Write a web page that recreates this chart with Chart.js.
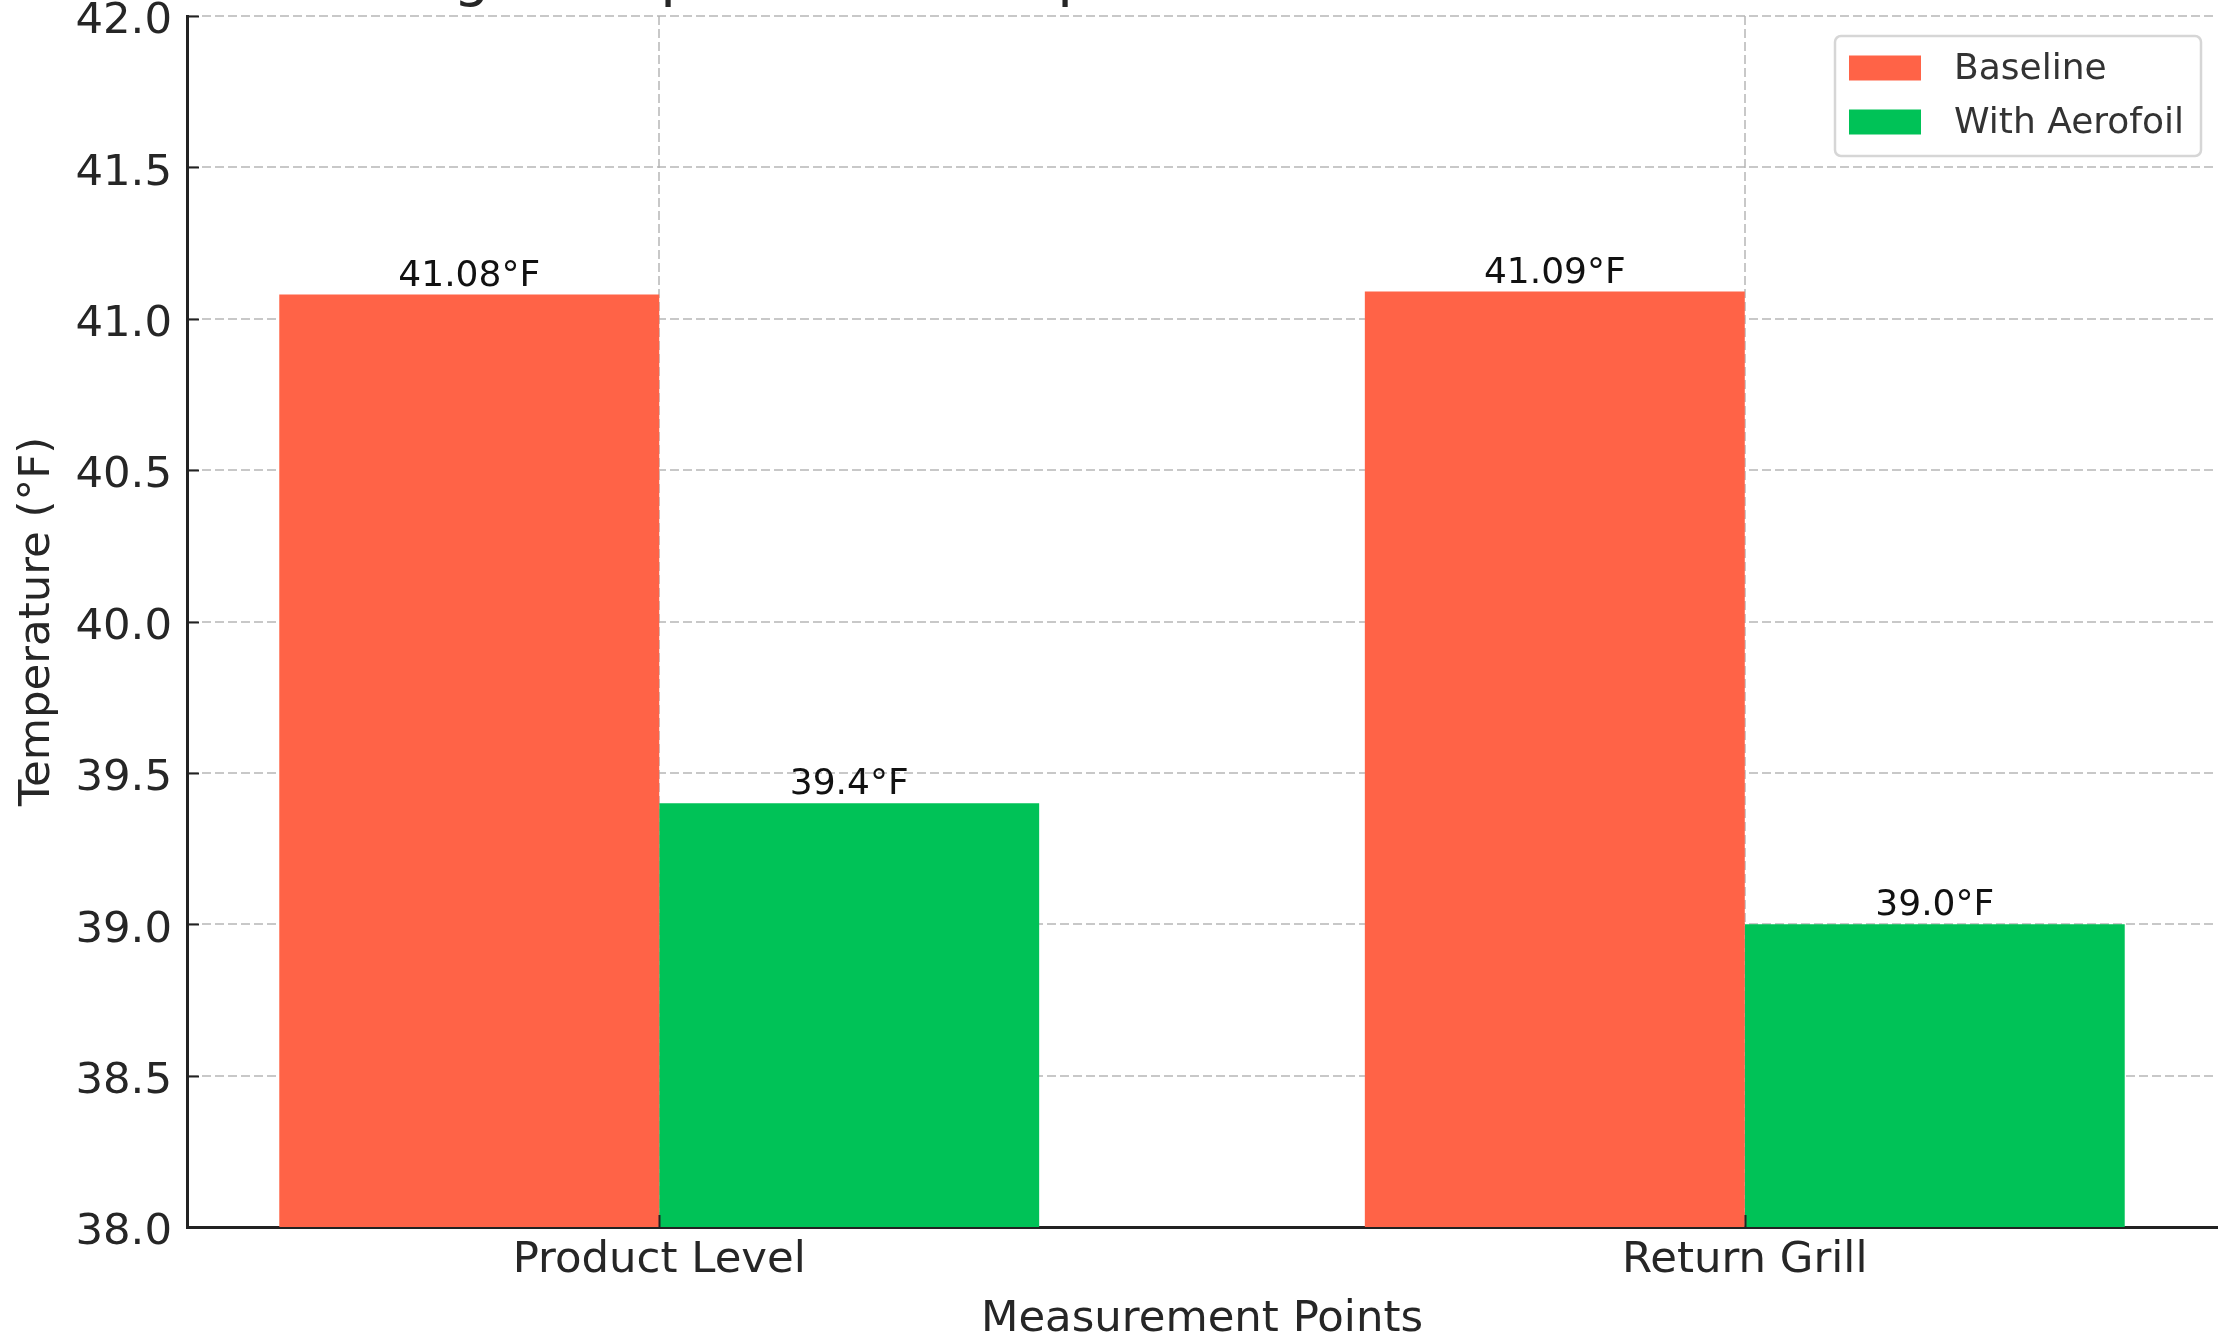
<!DOCTYPE html>
<html>
<head>
<meta charset="utf-8">
<script src="https://cdn.jsdelivr.net/npm/chart.js@4/dist/chart.umd.min.js"></script>
<style>
  html, body { margin: 0; padding: 0; background: #fff; }
  #wrap { width: 2236px; height: 1337px; }
</style>
</head>
<body>
<div id="wrap"><canvas id="chart-canvas" width="2236" height="1337"></canvas></div>
<script>
// Data.
var categories = ['Product Level', 'Return Grill'];
var seriesNames = ['Baseline', 'With Aerofoil'];
var baselineTemps = [41.08, 41.09];
var aerofoilTemps = [39.4, 39.0];
var yTickValues = [38.0, 38.5, 39.0, 39.5, 40.0, 40.5, 41.0, 41.5, 42.0];
var chartTitle = 'Average Temperature Comparison: Baseline vs With Aerofoil';

var textColor = '#262626';
var fontFamily = '"DejaVu Sans", "Liberation Sans", sans-serif';

function toPoints(values) {
  return values.map(function (v, i) { return { x: i, y: v }; });
}

// Python-like float text: 39.0 keeps its decimal.
function formatTemp(v) {
  return (Number.isInteger(v) ? v.toFixed(1) : String(v)) + '\u00B0F';
}

// Title sits mostly above the canvas, only the descenders show.
var cutTitle = {
  id: 'cutTitle',
  afterDraw: function (chart) {
    var ctx = chart.ctx;
    ctx.save();
    ctx.font = '57.5px ' + fontFamily;
    ctx.fillStyle = textColor;
    ctx.textAlign = 'left';
    ctx.textBaseline = 'alphabetic';
    ctx.fillText(chartTitle, chart.chartArea.left + 102, -5);
    ctx.restore();
  }
};

// Ticks point into the plot.
var innerTicks = {
  id: 'innerTicks',
  afterDraw: function (chart) {
    var ctx = chart.ctx;
    var area = chart.chartArea;
    var xs = chart.scales.x;
    var ys = chart.scales.y;
    ctx.save();
    ctx.strokeStyle = '#222';
    ctx.lineWidth = 2;
    ys.ticks.forEach(function (t, i) {
      var py = Math.round(ys.getPixelForTick(i)) + 0.5;
      ctx.beginPath();
      ctx.moveTo(area.left, py);
      ctx.lineTo(area.left + 12, py);
      ctx.stroke();
    });
    xs.ticks.forEach(function (t, i) {
      var px = Math.round(xs.getPixelForTick(i)) + 0.5;
      ctx.beginPath();
      ctx.moveTo(px, area.bottom);
      ctx.lineTo(px, area.bottom - 12);
      ctx.stroke();
    });
    ctx.restore();
  }
};

// Value labels above each bar.
var barLabels = {
  id: 'barLabels',
  afterDraw: function (chart) {
    var ctx = chart.ctx;
    ctx.save();
    ctx.font = '36px ' + fontFamily;
    ctx.fillStyle = '#111';
    ctx.textAlign = 'center';
    ctx.textBaseline = 'alphabetic';
    chart.data.datasets.forEach(function (ds, di) {
      var meta = chart.getDatasetMeta(di);
      meta.data.forEach(function (bar, i) {
        ctx.fillText(formatTemp(ds.data[i].y), bar.x, bar.y - 9);
      });
    });
    ctx.restore();
  }
};

// Legend box in the upper right corner of the plot.
var legendBox = {
  id: 'legendBox',
  afterDraw: function (chart) {
    var ctx = chart.ctx;
    var area = chart.chartArea;
    var w = 366, h = 120;
    var left = area.right - 16 - w;
    var top = area.top + 20;
    ctx.save();
    ctx.fillStyle = 'rgba(255,255,255,0.85)';
    ctx.strokeStyle = '#d6d6d6';
    ctx.lineWidth = 2.5;
    ctx.beginPath();
    ctx.roundRect(left, top, w, h, 6);
    ctx.fill();
    ctx.stroke();
    ctx.font = '36px ' + fontFamily;
    ctx.textBaseline = 'middle';
    ctx.textAlign = 'left';
    chart.data.datasets.forEach(function (ds, i) {
      var cy = top + 32 + i * 54;
      ctx.fillStyle = ds.backgroundColor;
      ctx.fillRect(left + 14, cy - 12.5, 72, 25);
      ctx.fillStyle = '#333';
      ctx.fillText(ds.label, left + 119, cy + 2);
    });
    ctx.restore();
  }
};

var gridColor = 'rgba(176,176,176,0.7)';

var ctx = document.getElementById('chart-canvas').getContext('2d');
new Chart(ctx, {
  type: 'bar',
  data: {
    datasets: [
      {
        label: seriesNames[0],
        data: toPoints(baselineTemps),
        backgroundColor: '#FF6347',
        borderWidth: 0
      },
      {
        label: seriesNames[1],
        data: toPoints(aerofoilTemps),
        backgroundColor: '#00C257',
        borderWidth: 0
      }
    ]
  },
  options: {
    responsive: false,
    devicePixelRatio: 1,
    animation: false,
    categoryPercentage: 0.7,
    barPercentage: 1.0,
    layout: { padding: { top: 16, right: 19, left: 0, bottom: 0 } },
    plugins: {
      legend: { display: false },
      title: { display: false },
      tooltip: { enabled: false }
    },
    scales: {
      x: {
        type: 'linear',
        min: -0.435,
        max: 1.435,
        offset: false,
        z: 1,
        afterBuildTicks: function (scale) {
          scale.ticks = categories.map(function (c, i) { return { value: i }; });
        },
        afterFit: function (scale) {
          scale.height = 110;
          scale.paddingLeft = 0;
          scale.paddingRight = 0;
        },
        ticks: {
          padding: 8,
          color: textColor,
          font: { family: fontFamily, size: 43.4 },
          maxRotation: 0,
          callback: function (value) { return categories[value]; }
        },
        grid: { color: gridColor, lineWidth: 2, drawTicks: false, offset: false },
        border: { display: true, color: '#222', width: 3, dash: [9, 4] },
        title: {
          display: true,
          text: 'Measurement Points',
          color: textColor,
          font: { family: fontFamily, size: 43.4, lineHeight: 0.8 },
          padding: { top: 0, bottom: 0 }
        }
      },
      y: {
        min: 38,
        max: 42,
        z: 1,
        afterBuildTicks: function (scale) {
          scale.ticks = yTickValues.map(function (v) { return { value: v }; });
        },
        afterFit: function (scale) {
          scale.width = 187;
          scale.paddingTop = 0;
          scale.paddingBottom = 0;
        },
        ticks: {
          padding: 15,
          labelOffset: 6,
          color: textColor,
          font: { family: fontFamily, size: 43.4 },
          callback: function (value) { return Number(value).toFixed(1); }
        },
        grid: { color: gridColor, lineWidth: 2, drawTicks: false },
        border: { display: true, color: '#222', width: 3, dash: [9, 4] },
        title: {
          display: true,
          text: 'Temperature (\u00B0F)',
          color: textColor,
          font: { family: fontFamily, size: 43.4, lineHeight: 1.2 },
          padding: { top: 12, bottom: 0 }
        }
      }
    }
  },
  plugins: [cutTitle, innerTicks, barLabels, legendBox]
});
</script>
</body>
</html>
